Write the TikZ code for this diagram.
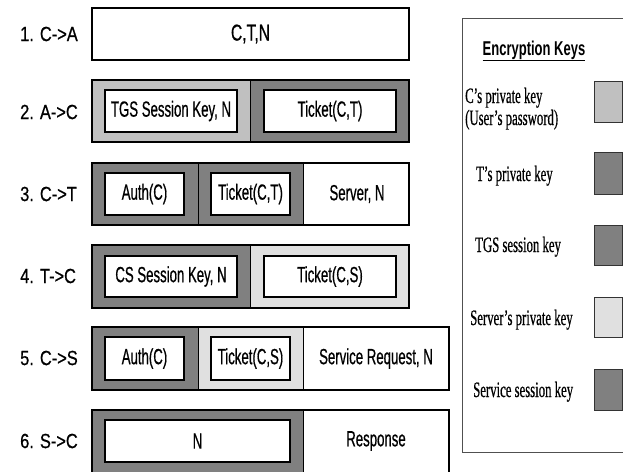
\documentclass[tikz,border=0pt]{standalone}
\usepackage{fontspec}
\setmainfont{Liberation Sans}
\newfontfamily\boxfont[FakeStretch=0.60,FakeBold=0.6]{Liberation Sans}
\newfontfamily\bigfont[FakeStretch=0.68,FakeBold=0.6]{Liberation Sans}
\newfontfamily\lblfont[FakeStretch=0.80,FakeBold=0.6]{Liberation Sans}
\newfontfamily\legfont[FakeStretch=0.58,FakeBold=0.5]{Liberation Serif}
\newfontfamily\headfont[FakeStretch=0.65]{Liberation Sans}
\definecolor{keyC}{HTML}{C0C0C0}
\definecolor{keyD}{HTML}{808080}
\definecolor{keyL}{HTML}{E0E0E0}
\definecolor{legline}{HTML}{505050}
\tikzset{
  seg/.style={draw=black, line width=0.8pt},
  outer/.style={draw=black, line width=1.2pt},
  inner/.style={draw=black, fill=white, line width=1.4pt},
  txt/.style={inner sep=0pt, font=\boxfont\fontsize{22}{22}\selectfont},
  lbl/.style={inner sep=0pt, anchor=west, font=\lblfont\fontsize{20.5}{20.5}\selectfont},
  leg/.style={inner sep=0pt, anchor=base west, align=left, font=\legfont\fontsize{22}{22}\selectfont},
  swatch/.style={draw=black!80, line width=1pt},
}
\begin{document}
\begin{tikzpicture}[x=1pt,y=-1pt]
\useasboundingbox (0,0) rectangle (623,471);
\fill[white] (0,0) rectangle (623,471);

% Row 1
\draw[outer, fill=white] (92,8) rectangle (409,60);
\node[inner sep=0pt, font=\bigfont\fontsize{23}{23}\selectfont] (m1) at (250.5,34) {C,T,N};
\node[lbl] (l1) at (20,34) {1. C->A};

% Row 2
\fill[keyC] (92,80) rectangle (250,142);
\fill[keyD] (250,80) rectangle (409,142);
\draw[seg] (250,80) -- (250,142);
\draw[outer] (92,80) rectangle (409,142);
\draw[inner] (105,90) rectangle (237,132);
\draw[inner] (264,90) rectangle (396,132);
\node[txt] (m2a) at (171,111) {TGS Session Key, N};
\node[txt] (m2b) at (330,111) {Ticket(C,T)};
\node[lbl] (l2) at (20,112) {2. A->C};

% Row 3
\fill[keyD] (92,163) rectangle (303,225);
\fill[white] (303,163) rectangle (409,225);
\draw[seg] (198,163) -- (198,225);
\draw[seg] (303,163) -- (303,225);
\draw[outer] (92,163) rectangle (409,225);
\draw[inner] (105,173) rectangle (184,215);
\draw[inner] (211,173) rectangle (290,215);
\node[txt] (m3a) at (144.5,194) {Auth(C)};
\node[txt] (m3b) at (250.5,194) {Ticket(C,T)};
\node[txt] (m3c) at (357,194) {Server, N};
\node[lbl] (l3) at (20,194) {3. C->T};

% Row 4
\fill[keyD] (92,245) rectangle (250,308);
\fill[keyL] (250,245) rectangle (409,308);
\draw[seg] (250,245) -- (250,308);
\draw[outer] (92,245) rectangle (409,308);
\draw[inner] (105,256) rectangle (237,297);
\draw[inner] (264,256) rectangle (396,297);
\node[txt] (m4a) at (171,276.5) {CS Session Key, N};
\node[txt] (m4b) at (330,276.5) {Ticket(C,S)};
\node[lbl] (l4) at (20,276) {4. T->C};

% Row 5
\fill[keyD] (92,327) rectangle (198,390);
\fill[keyL] (198,327) rectangle (303,390);
\fill[white] (303,327) rectangle (449,390);
\draw[seg] (198,327) -- (198,390);
\draw[seg] (303,327) -- (303,390);
\draw[outer] (92,327) rectangle (449,390);
\draw[inner] (105,337) rectangle (184,380);
\draw[inner] (211,337) rectangle (290,380);
\node[txt] (m5a) at (144.5,358.5) {Auth(C)};
\node[txt] (m5b) at (250.5,358.5) {Ticket(C,S)};
\node[txt] (m5c) at (376,358.5) {Service Request, N};
\node[lbl] (l5) at (20,358) {5. C->S};

% Row 6
\fill[keyD] (92,410) rectangle (303,476);
\fill[white] (303,410) rectangle (449,476);
\draw[seg] (303,410) -- (303,476);
\draw[outer] (92,410) rectangle (449,476);
\draw[inner] (105,420) rectangle (290,462);
\node[txt] (m6a) at (197.5,441) {N};
\node[txt] (m6b) at (376,441) {Response};
\node[lbl] (l6) at (20,441) {6. S->C};

% Legend
\draw[legline, line width=1pt] (462,18) rectangle (640,452);
\node[inner sep=0pt, anchor=base, font=\headfont\bfseries\fontsize{20}{20}\selectfont] (lt) at (534,55) {\underline{Encryption Keys}};
\draw[swatch, fill=keyC] (594,81) rectangle (622,122);
\draw[swatch, fill=keyD] (594,152) rectangle (622,194);
\draw[swatch, fill=keyD] (594,225) rectangle (622,265);
\draw[swatch, fill=keyL] (594,297) rectangle (622,337);
\draw[swatch, fill=keyD] (594,369) rectangle (622,410);
\node[leg] (k1) at (465,103) {C’s private key};
\node[leg] (k1b) at (465,125) {(User’s password)};
\node[leg] (k2) at (476,181) {T’s private key};
\node[leg] (k3) at (475,252) {TGS session key};
\node[leg] (k4) at (470,325) {Server’s private key};
\node[leg] (k5) at (473,397) {Service session key};
\end{tikzpicture}
\end{document}
